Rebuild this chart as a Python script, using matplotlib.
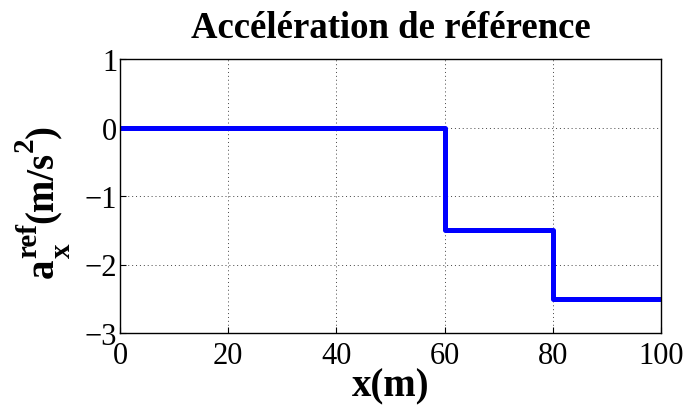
import numpy as np
import matplotlib
matplotlib.use('Agg')
import matplotlib.pyplot as plt

# reference acceleration profile (piecewise constant)
x_steps = [0, 60, 80, 100]  # [m]
a_ref = [0, -1.5, -2.5, -2.5]  # [m/s^2]
xticks = [0, 20, 40, 60, 80, 100]
yticks = [-3, -2, -1, 0, 1]

plt.rcParams['font.family'] = 'Liberation Serif'

W, H = 688, 406
fig = plt.figure(figsize=(W / 100, H / 100), dpi=100)
ax = fig.add_axes([120 / W, 72 / H, 541 / W, 274 / H])

ax.step(x_steps, a_ref, where='post', color='#0000ff', lw=3.6)

ax.set_xlim(0, 100)
ax.set_ylim(-3, 1)
ax.set_xticks(xticks)
ax.set_yticks(yticks)
ax.grid(True, linestyle=(0, (1, 3)), color='#444444', lw=0.7)
ax.tick_params(direction='in', length=4, labelsize=22, pad=2, width=0.8)
ax.tick_params(axis='x', pad=6)
for s in ax.spines.values():
    s.set_linewidth(1.0)

ax.set_title('Accélération de référence', fontsize=26.5, fontweight='bold', pad=16)
ax.set_xlabel('x(m)', fontsize=28, fontweight='bold', labelpad=-2)

# y label built piece by piece (MATLAB-like tex layout, rotated 90 deg)
main_fs, scr_fs = 28, 21
rend = fig.canvas.get_renderer()


def put(txt, fs, xb, y0):
    # xb: baseline position [px from left], y0: start of text [px from bottom]
    t = fig.text(xb / W, y0 / H, txt, fontsize=fs, fontweight='bold', rotation=90,
                 rotation_mode='anchor', ha='left', va='baseline')
    ext = t.get_window_extent(rend)
    return y0 + ext.height


y = 406 - 278
y = put('a', main_fs, 53, y)
y1 = put('x', scr_fs, 70, y)
y2 = put('ref', scr_fs, 36, y)
y = put('(m/s', main_fs, 53, max(y1, y2))
y = put('2', scr_fs, 33, y)
put(')', main_fs, 53, y)

fig.savefig('out.png', dpi=100)
